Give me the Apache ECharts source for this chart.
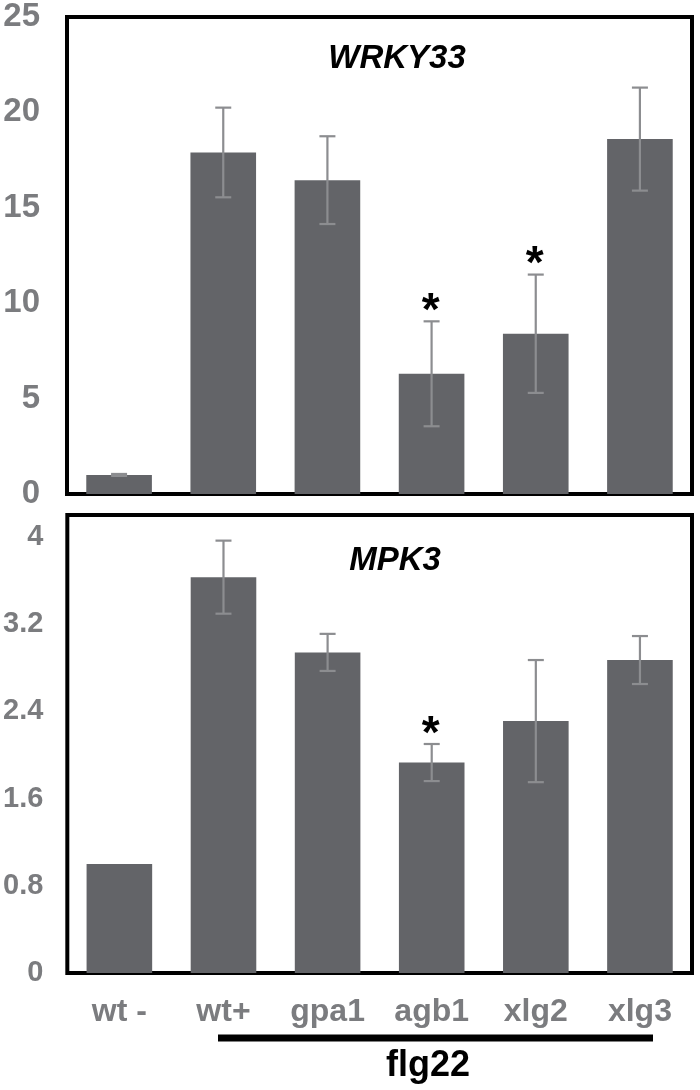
<!DOCTYPE html>
<html>
<head>
<meta charset="utf-8">
<script src="https://cdn.jsdelivr.net/npm/echarts@6/dist/echarts.min.js"></script>
<style>
html,body{margin:0;padding:0;background:#fff;}
#chart{width:700px;height:1090px;}
</style>
</head>
<body>
<div id="chart"></div>
<script>
// ---- data ----
const categories = ['wt -', 'wt+', 'gpa1', 'agb1', 'xlg2', 'xlg3'];
const wrkyMean = [1.0, 17.9, 16.45, 6.3, 8.4, 18.6];
const wrkyErr  = [0.05, 2.35, 2.3, 2.75, 3.1, 2.7];
const wrkySig  = ['', '', '', '*', '*', ''];
const mpkMean  = [1.0, 3.63, 2.94, 1.93, 2.31, 2.87];
const mpkErr   = [0, 0.335, 0.17, 0.17, 0.56, 0.22];
const mpkSig   = ['', '', '', '*', '', ''];
const wrkyAxis = { min: 0, max: 25, interval: 5 };
const mpkAxis  = { min: 0, max: 4.2, interval: 0.8 };
const titles = ['WRKY33', 'MPK3'];
const treatment = 'flg22';

// ---- styles ----
const FONT = '"Liberation Sans", Arial, sans-serif';
const GRAY = '#7b7c7f';
const BAR = '#636468';
const ERR = '#8c8d90';

const chart = echarts.init(document.getElementById('chart'), null, { renderer: 'canvas' });

function errSeries(mean, err, sig, idx) {
  return {
    type: 'custom',
    xAxisIndex: idx, yAxisIndex: idx,
    z: 5,
    data: mean.map((m, i) => [i, m, err[i]]),
    renderItem: function (params, api) {
      const i = api.value(0), m = api.value(1), e = api.value(2);
      const children = [];
      const top = api.coord([i, m + e]);
      const bot = api.coord([i, m - e]);
      const hw = 8;
      const st = { stroke: ERR, lineWidth: 2.2 };
      if (e > 0) {
        children.push({ type: 'line', shape: { x1: top[0], y1: top[1], x2: bot[0], y2: bot[1] }, style: st });
        children.push({ type: 'line', shape: { x1: top[0] - hw, y1: top[1], x2: top[0] + hw, y2: top[1] }, style: st });
        children.push({ type: 'line', shape: { x1: bot[0] - hw, y1: bot[1], x2: bot[0] + hw, y2: bot[1] }, style: st });
      }
      const s = sig[params.dataIndex];
      if (s) {
        children.push({
          type: 'text',
          style: {
            text: s, x: top[0] - 1, y: top[1] - 9,
            textAlign: 'center', textVerticalAlign: 'middle',
            font: 'bold 46px ' + FONT, fill: '#000'
          }
        });
      }
      return { type: 'group', children: children };
    }
  };
}

const yLabel = (size, margin) => ({
  color: GRAY, fontSize: size, fontWeight: 'bold', fontFamily: FONT, margin: margin,
  formatter: v => String(Math.round(v * 10) / 10)
});

const option = {
  animation: false,
  backgroundColor: '#fff',
  grid: [
    { left: 67, right: 8, top: 17, height: 477, show: true, borderColor: '#000', borderWidth: 4, backgroundColor: 'transparent' },
    { left: 67, right: 8, top: 515, height: 458, show: true, borderColor: '#000', borderWidth: 4, backgroundColor: 'transparent' }
  ],
  xAxis: [
    { type: 'category', gridIndex: 0, data: categories, axisLine: { show: false }, axisTick: { show: false }, axisLabel: { show: false } },
    { type: 'category', gridIndex: 1, data: categories, axisLine: { show: false }, axisTick: { show: false },
      axisLabel: { color: GRAY, fontSize: 32, fontWeight: 'bold', fontFamily: FONT, margin: 23 } }
  ],
  yAxis: [
    { type: 'value', gridIndex: 0, min: wrkyAxis.min, max: wrkyAxis.max, interval: wrkyAxis.interval,
      axisLine: { show: false }, axisTick: { show: false }, splitLine: { show: false },
      axisLabel: yLabel(33, 27) },
    { type: 'value', gridIndex: 1, min: mpkAxis.min, max: mpkAxis.max, interval: mpkAxis.interval,
      axisLine: { show: false }, axisTick: { show: false }, splitLine: { show: false },
      axisLabel: Object.assign(yLabel(29, 24), { showMaxLabel: false }) }
  ],
  series: [
    { type: 'bar', xAxisIndex: 0, yAxisIndex: 0, data: wrkyMean, barWidth: '63%', itemStyle: { color: BAR } },
    errSeries(wrkyMean, wrkyErr, wrkySig, 0),
    { type: 'bar', xAxisIndex: 1, yAxisIndex: 1, data: mpkMean, barWidth: '63%', itemStyle: { color: BAR } },
    errSeries(mpkMean, mpkErr, mpkSig, 1)
  ],
  graphic: [
    { type: 'text', style: { text: titles[0], x: 397, y: 59, textAlign: 'center', textVerticalAlign: 'middle',
        font: 'italic bold 33px ' + FONT, fill: '#000' } },
    { type: 'text', style: { text: titles[1], x: 395, y: 561, textAlign: 'center', textVerticalAlign: 'middle',
        font: 'italic bold 33px ' + FONT, fill: '#000' } },
    { type: 'line', shape: { x1: 218, y1: 1038, x2: 653, y2: 1038 }, style: { stroke: '#000', lineWidth: 7 } },
    { type: 'text', style: { text: treatment, x: 428, y: 1066, textAlign: 'center', textVerticalAlign: 'middle',
        font: 'bold 36px ' + FONT, fill: '#000' } }
  ]
};
chart.setOption(option);
</script>
</body>
</html>
